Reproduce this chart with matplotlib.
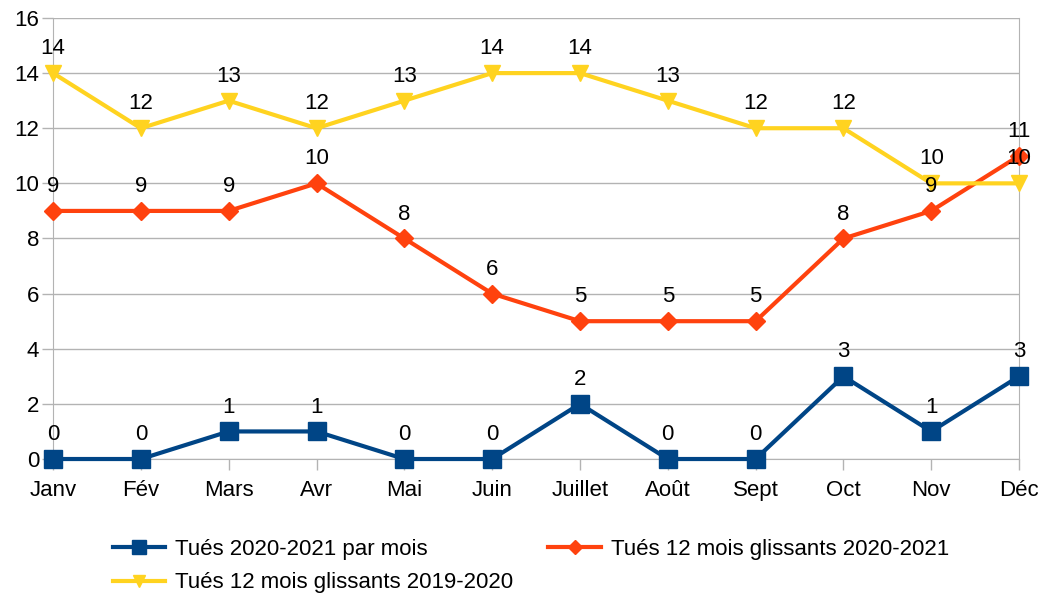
import matplotlib
matplotlib.use('Agg')
import matplotlib.pyplot as plt

plt.rcParams['font.family'] = ['Liberation Sans', 'DejaVu Sans']

mois = ['Janv', 'Fév', 'Mars', 'Avr', 'Mai', 'Juin', 'Juillet', 'Août',
        'Sept', 'Oct', 'Nov', 'Déc']
tues_mois = [0, 0, 1, 1, 0, 0, 2, 0, 0, 3, 1, 3]
glissant_2021 = [9, 9, 9, 10, 8, 6, 5, 5, 5, 8, 9, 11]
glissant_2020 = [14, 12, 13, 12, 13, 14, 14, 13, 12, 12, 10, 10]

series = [
    ('Tués 2020-2021 par mois', tues_mois, '#004586', 's', 13),
    ('Tués 12 mois glissants 2020-2021', glissant_2021, '#ff420e', 'D', 9),
    ('Tués 12 mois glissants 2019-2020', glissant_2020, '#ffd320', 'v', 12),
]

fig = plt.figure(figsize=(10.42, 5.99), dpi=100)
ax = fig.add_axes([0.0509, 0.2337, 0.9271, 0.7363])

x = list(range(len(mois)))
handles = []
for label, vals, col, mk, ms in series:
    h, = ax.plot(x, vals, color=col, lw=3, marker=mk, markersize=ms,
                 label=label, clip_on=False, zorder=3)
    handles.append(h)
    for xi, v in zip(x, vals):
        ax.annotate(str(v), (xi, v), xytext=(0, 10), textcoords='offset points',
                    ha='center', va='bottom', fontsize=16, color='#000000',
                    zorder=4)

ax.set_xlim(0, 11)
ax.set_ylim(0, 16)
ax.set_yticks(range(0, 17, 2))
ax.set_xticks(x)
ax.set_xticklabels(mois)
ax.grid(axis='y', color='#b3b3b3', lw=1)
ax.set_axisbelow(True)
for s in ax.spines.values():
    s.set_color('#b3b3b3')
ax.spines['top'].set_visible(False)
ax.tick_params(axis='both', colors='#b3b3b3', labelcolor='#000000',
               labelsize=16, length=8, width=1)
ax.tick_params(axis='x', pad=7)
ax.tick_params(axis='y', pad=2)

# ordre colonne par colonne pour obtenir l'ordre ligne par ligne du modèle
leg_order = [handles[0], handles[2], handles[1]]
fig.legend(handles=leg_order, loc='upper left', bbox_to_anchor=(0.108, 0.101),
           ncol=2, frameon=False, fontsize=16, handlelength=2.35,
           columnspacing=1.6, handletextpad=0.45, labelspacing=0.58,
           borderaxespad=0, borderpad=0, markerscale=0.75)

fig.savefig('out.png', dpi=100)
